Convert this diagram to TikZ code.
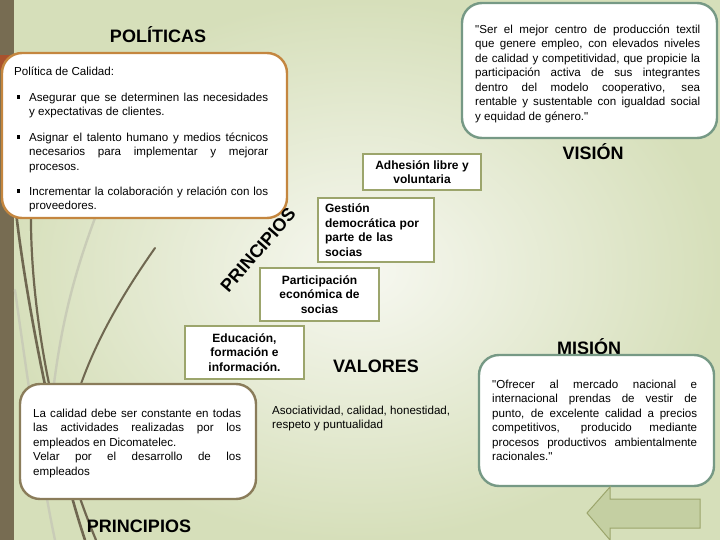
\documentclass[tikz,border=0pt]{standalone}
\usepackage{fontspec}
\setmainfont{Liberation Sans}
\usetikzlibrary{positioning}
\definecolor{franja}{HTML}{776C52}
\definecolor{pestana}{HTML}{A9522E}
\definecolor{fondoclaro}{HTML}{F7F8F1}
\definecolor{fondoverde}{HTML}{D6DFBA}
\definecolor{tallo}{HTML}{6F6750}
\definecolor{tallogris}{HTML}{C9CCB7}
\definecolor{bordenaranja}{HTML}{C4863F}
\definecolor{bordeverde}{HTML}{769985}
\definecolor{bordecafe}{HTML}{8A7C5A}
\definecolor{bordeoliva}{HTML}{9CA56C}
\definecolor{flecha}{HTML}{C4CFA2}

\tikzset{
  cuadro/.style={fill=white,rounded corners=20pt,line width=2.4pt},
  principio/.style={draw=bordeoliva,line width=2.6pt,fill=white,
    font=\fontsize{12}{14.5}\selectfont\bfseries,align=center,inner sep=2pt},
  cuerpo/.style={anchor=north west,inner sep=0pt,align=justify,
    font=\fontsize{11.6}{14.5}\selectfont},
  titulo/.style={anchor=base,font=\fontsize{18}{20}\selectfont\bfseries},
  vineta/.style={fill=black,inner sep=0pt,minimum size=3.2pt},
  hoja/.style={draw=tallo,line width=2.6pt,line cap=round},
  hojaclara/.style={draw=tallogris,line width=2.4pt,line cap=round},
}

\begin{document}
\begin{tikzpicture}[x=1pt,y=-1pt]
  \useasboundingbox (0,0) rectangle (720,540);
  \shade[inner color=fondoclaro,outer color=fondoverde] (0,0) rectangle (720,540);
  \fill[franja] (0,0) rectangle (14,540);
  \fill[pestana] (0,55) rectangle (14,70);

  \draw[hojaclara] (95,218) .. controls (72,280) and (60,330) .. (52,400);
  \draw[hojaclara] (15,290) .. controls (22,340) and (40,470) .. (55,540);
  \draw[hoja] (16,212) .. controls (26,300) and (55,450) .. (85,540);
  \draw[hoja,line width=2.2pt] (31,212) .. controls (30,300) and (50,430) .. (96,540);
  \draw[hoja,line width=2pt] (155,248) .. controls (115,305) and (85,360) .. (70,420);

  \node[titulo] (politicas) at (158,43) {POLÍTICAS};
  \draw[cuadro,draw=bordenaranja] (2,53) rectangle (287,218);
  \node[cuerpo,align=left] (calidad) at (14,65) {\strut Política de Calidad:};
  \node[cuerpo,text width=239pt] (item1) at (29,91)
    {\strut Asegurar que se determinen las necesidades\linebreak
     y expectativas de clientes.};
  \node[cuerpo,text width=239pt] (item2) at (29,131)
    {\strut Asignar el talento humano y medios técnicos\linebreak
     necesarios para implementar y mejorar\linebreak procesos.};
  \node[cuerpo,text width=239pt] (item3) at (29,185)
    {\strut Incrementar la colaboración y relación con los\linebreak
     proveedores.};
  \foreach \yb [count=\i] in {97,137,191}
    \node[vineta] (vin\i) at (18.5,\yb) {};

  \draw[cuadro,draw=bordeverde] (462,3) rectangle (717,138);
  \node[cuerpo,text width=225pt] (textovision) at (475,23)
    {\strut\textquotedbl Ser el mejor centro de producción textil\linebreak
     que genere empleo, con elevados niveles\linebreak
     de calidad y competitividad, que propicie la\linebreak
     participación activa de sus integrantes\linebreak
     dentro del modelo cooperativo, sea\linebreak
     rentable y sustentable con igualdad social\linebreak
     y equidad de género.\textquotedbl};
  \node[titulo] (vision) at (593,160) {VISIÓN};

  \node[principio,minimum width=118pt,minimum height=36pt] (adhesion)
    at (422,172) {Adhesión libre y\\voluntaria};
  \node[principio,minimum width=116pt,minimum height=64pt,text width=102pt,
    align=left] (gestion) at (376,230)
    {Gestión\\democrática por\\parte de las\\socias};
  \node[principio,minimum width=119pt,minimum height=53pt] (participacion)
    at (319.5,294.5) {Participación\\económica de\\socias};
  \node[principio,minimum width=119pt,minimum height=53pt] (educacion)
    at (244.5,352.5) {Educación,\\formación e\\información.};
  \node[font=\fontsize{18}{20}\selectfont\bfseries,rotate=49,inner sep=0pt]
    (principiosdiag) at (258,250) {PRINCIPIOS};

  \draw[cuadro,draw=bordecafe] (20,384) rectangle (256,499);
  \node[cuerpo,text width=208pt] (textoprincipios) at (33,407)
    {\strut La calidad debe ser constante en todas\linebreak
     las actividades realizadas por los\linebreak
     empleados en Dicomatelec.\\
     Velar por el desarrollo de los\linebreak empleados};
  \node[titulo] (principios) at (139,532) {PRINCIPIOS};

  \node[titulo] (valores) at (376,372) {VALORES};
  \node[cuerpo,align=left,font=\fontsize{11.6}{13.5}\selectfont]
    (textovalores) at (272,405)
    {\strut Asociatividad, calidad, honestidad,\\respeto y puntualidad};

  \node[titulo] (mision) at (589,354) {MISIÓN};
  \draw[cuadro,draw=bordeverde] (479,355) rectangle (714,486);
  \node[cuerpo,text width=205pt] (textomision) at (492,378)
    {\strut\textquotedbl Ofrecer al mercado nacional e\linebreak
     internacional prendas de vestir de\linebreak
     punto, de excelente calidad a precios\linebreak
     competitivos, producido mediante\linebreak
     procesos productivos ambientalmente\linebreak
     racionales.\textquotedbl};

  \draw[draw=bordeoliva,fill=flecha,line width=1pt] (587,513) -- (610,487)
    -- (610,499) -- (700,499) -- (700,528) -- (610,528) -- (610,540) -- cycle;
\end{tikzpicture}
\end{document}
